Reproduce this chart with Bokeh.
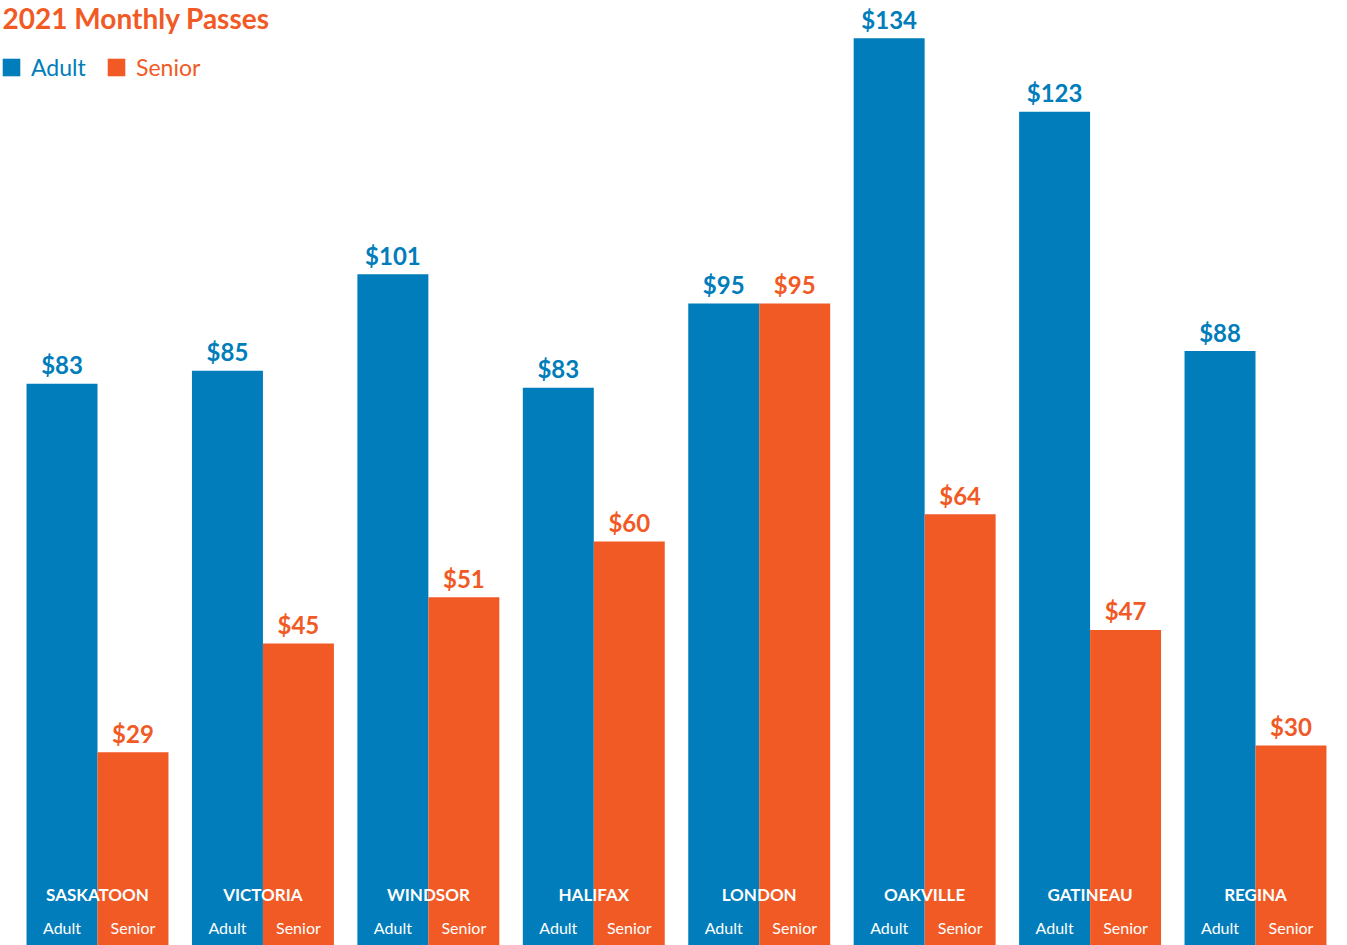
from bokeh.plotting import figure
from bokeh.models import ColumnDataSource, Range1d, Label, Legend, LegendItem
from bokeh.core.properties import value
from bokeh.embed import file_html
from bokeh.resources import INLINE

cities = ["SASKATOON", "VICTORIA", "WINDSOR", "HALIFAX", "LONDON", "OAKVILLE", "GATINEAU", "REGINA"]
adult = [83.2, 85.1, 99.3, 82.6, 95.0, 134.0, 123.2, 88.0]
senior = [29.0, 45.0, 51.8, 60.0, 95.0, 64.0, 47.0, 30.0]
adult_labels = ["$83", "$85", "$101", "$83", "$95", "$134", "$123", "$88"]
senior_labels = ["$29", "$45", "$51", "$60", "$95", "$64", "$47", "$30"]
series = ["Adult", "Senior"]
title_text = "2021 Monthly Passes"

BLUE = "#007DBA"
ORANGE = "#F15A25"
FONT = "Lato"

W, H = 1347, 945
pitch = 165.43
bar_w = 0.429
off = bar_w / 2

x = list(range(len(cities)))
src = ColumnDataSource(dict(
    x=x,
    xa=[i - off for i in x],
    xs=[i + off for i in x],
    adult=adult,
    senior=senior,
    al=adult_labels,
    sl=senior_labels,
    city=cities,
    an=[series[0]] * len(x),
    sn=[series[1]] * len(x),
))

x0 = -97 / pitch
y_scale = 6.8
p = figure(width=W, height=H, output_backend="svg", toolbar_location=None,
           x_range=Range1d(x0, x0 + W / pitch),
           y_range=Range1d((949 - H) / y_scale, 949 / y_scale),
           min_border=0, min_border_left=0, min_border_right=0,
           min_border_top=0, min_border_bottom=0)
p.xaxis.visible = False
p.yaxis.visible = False
p.grid.visible = False
p.outline_line_color = None
p.background_fill_color = "white"
p.border_fill_color = "white"

ra = p.vbar(x="xa", top="adult", bottom=0, width=bar_w, source=src,
            fill_color=BLUE, line_color=None)
rs = p.vbar(x="xs", top="senior", bottom=0, width=bar_w, source=src,
            fill_color=ORANGE, line_color=None)

p.text(x="xa", y="adult", text="al", source=src, text_align="center",
       text_baseline="alphabetic", y_offset=-19, text_color=BLUE,
       text_font=value(FONT), text_font_style="bold", text_font_size="24px")
p.text(x="xs", y="senior", text="sl", source=src, text_align="center",
       text_baseline="alphabetic", y_offset=-19, text_color=ORANGE,
       text_font=value(FONT), text_font_style="bold", text_font_size="24px")

# city names and series names at the bottom of bars
p.text(x="x", y=p.y_range.start, text="city", source=src, text_align="center",
       text_baseline="alphabetic", y_offset=-51, text_color="white",
       text_font=value(FONT), text_font_style="bold", text_font_size="17px")
p.text(x="xa", y=p.y_range.start, text="an", source=src, text_align="center",
       text_baseline="alphabetic", y_offset=-18, text_color="white",
       text_font=value(FONT), text_font_size="16px")
p.text(x="xs", y=p.y_range.start, text="sn", source=src, text_align="center",
       text_baseline="alphabetic", y_offset=-18, text_color="white",
       text_font=value(FONT), text_font_size="16px")

p.add_layout(Label(x=2, y=H - 17, x_units="screen", y_units="screen",
                   text=title_text, text_color=ORANGE, text_font=FONT,
                   text_font_style="bold", text_font_size="28px",
                   text_baseline="alphabetic"))

for i, (r, col, lx) in enumerate([(ra, BLUE, 0), (rs, ORANGE, 105)]):
    lg = Legend(items=[LegendItem(label=series[i], renderers=[r])],
                location=(lx, H - 81), orientation="horizontal",
                glyph_width=22, glyph_height=22, label_standoff=9,
                padding=0, margin=0, spacing=0,
                border_line_alpha=0, background_fill_alpha=0,
                label_text_color=col, label_text_font=FONT,
                label_text_font_size="23px", label_height=22)
    p.add_layout(lg, "center")

open("out.html", "w").write(file_html(p, INLINE))
